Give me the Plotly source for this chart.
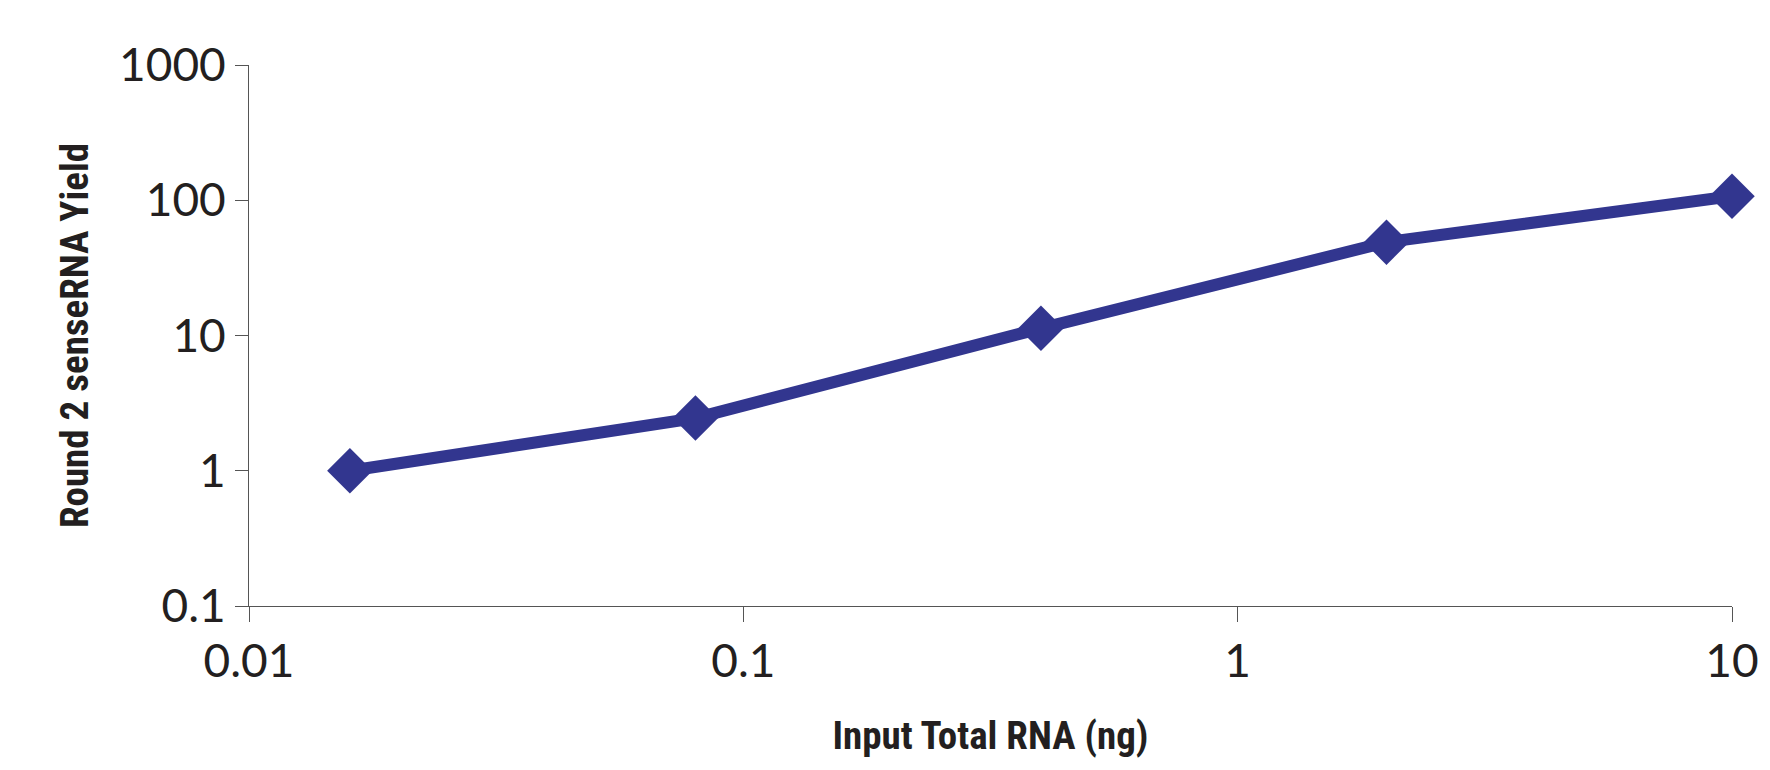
import plotly.graph_objects as go

input_rna_ng = [0.016, 0.08, 0.4, 2, 10]
sense_rna_yield = [1.0, 2.45, 11.3, 49, 107]
x_tick_vals = [0.01, 0.1, 1, 10]
x_tick_text = ["0.01", "0.1", "1", "10"]
y_tick_vals = [0.1, 1, 10, 100, 1000]
y_tick_text = ["0.1", "1", "10", "100", "1000"]

line_color = "#32368f"
text_color = "#231f20"

fig = go.Figure()
fig.add_trace(go.Scatter(
    x=input_rna_ng, y=sense_rna_yield, mode="lines+markers",
    line=dict(color=line_color, width=12),
    marker=dict(symbol="diamond", size=35, color=line_color),
    cliponaxis=False,
    showlegend=False,
))

tick_font = dict(family="Lato, Open Sans, sans-serif", size=46, color=text_color, weight=400)
title_font = dict(family="Liberation Sans Narrow, Arial Narrow, Roboto Condensed, sans-serif",
                  size=39, color=text_color, weight="bold")

fig.update_layout(
    width=1770, height=770,
    margin=dict(l=249, r=38, t=65, b=164),
    paper_bgcolor="white", plot_bgcolor="white",
    xaxis=dict(
        type="log", range=[-2, 1],
        tickvals=x_tick_vals, ticktext=x_tick_text,
        ticks="outside", ticklen=15, tickcolor="#555555", tickwidth=1,
        showline=True, linecolor="#555555", linewidth=1,
        showgrid=False, zeroline=False,
        tickfont=tick_font,
        title=dict(text="Input Total RNA (ng)", font=title_font, standoff=35),
    ),
    yaxis=dict(
        type="log", range=[-1, 3],
        tickvals=y_tick_vals, ticktext=y_tick_text,
        ticks="outside", ticklen=13, tickcolor="#555555", tickwidth=1,
        showline=True, linecolor="#555555", linewidth=1,
        showgrid=False, zeroline=False,
        tickfont=tick_font,
        title=dict(text="Round 2 senseRNA Yield", font=title_font, standoff=18),
    ),
)

fig.write_html("out.html")
